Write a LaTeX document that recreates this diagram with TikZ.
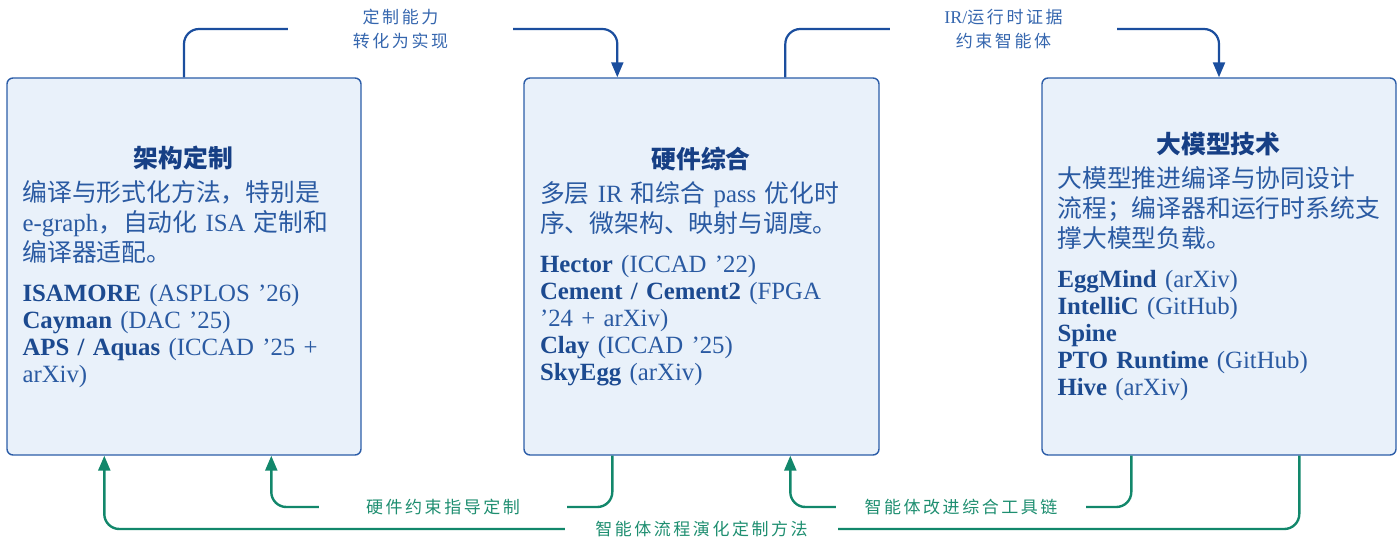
\documentclass[tikz,border=0pt]{standalone}
\usepackage{fontspec}
\setmainfont{Liberation Serif}
\newfontfamily\cjk{Noto Sans CJK SC}
\newfontfamily\cjklab{Noto Sans CJK SC}[LetterSpace=15]
\usetikzlibrary{arrows.meta,calc}
\definecolor{boxfill}{HTML}{E9F1FA}
\definecolor{boxdraw}{HTML}{2C5DA8}
\definecolor{bluecol}{HTML}{1B4E9E}
\definecolor{bodycol}{HTML}{2A5AA2}
\definecolor{namecol}{HTML}{1C4A90}
\definecolor{titlecol}{HTML}{163F85}
\definecolor{toplabcol}{HTML}{3566AE}
\definecolor{greencol}{HTML}{12876B}
\definecolor{botlabcol}{HTML}{1E8E70}
\newcommand\nm[1]{\textbf{\color{namecol}#1}}
\newcommand\ttl[1]{\makebox[\hsize][c]{\color{titlecol}\cjk\bfseries #1}}
\begin{document}
\begin{tikzpicture}[x=1pt,y=-1pt,
 boxst/.style={draw=boxdraw, fill=boxfill, line width=1.4pt, rounded corners=6pt, minimum height=377pt, inner sep=0pt},
 content/.style={anchor=west, text width=322pt, align=left, inner sep=0pt, text=bodycol, font=\fontsize{24.8}{27}\selectfont},
 toplab/.style={inner sep=0pt, align=center, text=toplabcol, font=\cjklab\fontsize{17}{24}\selectfont},
 botlab/.style={inner sep=0pt, align=center, text=botlabcol, font=\cjklab\fontsize{17}{20}\selectfont},
 bline/.style={draw=bluecol, line width=2.2pt, rounded corners=15pt},
 barrow/.style={bline, -{Triangle[length=15pt,width=12pt]}},
 gline/.style={draw=greencol, line width=2.4pt, rounded corners=15pt},
 garrow/.style={gline, -{Triangle[length=15pt,width=12pt]}}]
\useasboundingbox (0,0) rectangle (1398,537);

% boxes
\node[boxst, minimum width=354pt] (b1) at (184,266.5) {};
\node[boxst, minimum width=355pt] (b2) at (701.5,266.5) {};
\node[boxst, minimum width=354pt] (b3) at (1219,266.5) {};

\node[content] (c1) at ($(b1.west)+(16,0)$) {%
\ttl{架构定制}\\[7pt]
{\cjk 编译与形式化方法，特别是}\\[3pt]
e-graph{\cjk ，自动化} ISA {\cjk 定制和}\\[3pt]
{\cjk 编译器适配。}\\[13pt]
\nm{ISAMORE} (ASPLOS ’26)\\
\nm{Cayman} (DAC ’25)\\
\nm{APS / Aquas} (ICCAD ’25 +\\
arXiv)};

\node[content] (c2) at ($(b2.west)+(16.5,0)$) {%
\ttl{硬件综合}\\[7pt]
{\cjk 多层} IR {\cjk 和综合} pass {\cjk 优化时}\\[3pt]
{\cjk 序、微架构、映射与调度。}\\[13pt]
\nm{Hector} (ICCAD ’22)\\
\nm{Cement / Cement2} (FPGA\\
’24 + arXiv)\\
\nm{Clay} (ICCAD ’25)\\
\nm{SkyEgg} (arXiv)};

\node[content] (c3) at ($(b3.west)+(16,0)$) {%
\ttl{大模型技术}\\[7pt]
{\cjk 大模型推进编译与协同设计}\\[3pt]
{\cjk 流程；编译器和运行时系统支}\\[3pt]
{\cjk 撑大模型负载。}\\[13pt]
\nm{EggMind} (arXiv)\\
\nm{IntelliC} (GitHub)\\
\nm{Spine}\\
\nm{PTO Runtime} (GitHub)\\
\nm{Hive} (arXiv)};

% labels
\node[toplab, minimum width=225pt] (l1) at (400.5,29) {定制能力\\转化为实现};
\node[toplab, minimum width=227pt] (l2) at (1003.5,29) {{\rmfamily\fontsize{18}{24}\selectfont IR/}运行时证据\\约束智能体};
\node[botlab, minimum width=248pt] (l3) at (443,507) {硬件约束指导定制};
\node[botlab, minimum width=250pt] (l4) at (961,507) {智能体改进综合工具链};
\node[botlab, minimum width=273pt] (l5) at (701.5,529) {智能体流程演化定制方法};

% anchor coordinates on boxes
\coordinate (t1) at ($(b2.north west)+(94,0)$);
\coordinate (s2) at ($(b2.north west)+(262,0)$);
\coordinate (s3) at ($(b2.south west)+(89,0)$);
\coordinate (e3) at ($(b1.south west)+(265,0)$);
\coordinate (s4) at ($(b3.south west)+(90,0)$);
\coordinate (e4) at ($(b2.south west)+(267,0)$);
\coordinate (s5) at ($(b3.south west)+(258,0)$);
\coordinate (e5) at ($(b1.south west)+(98,0)$);

% top connectors
\draw[bline] (b1.north) |- (l1.west);
\draw[barrow] (l1.east) -| (t1);
\draw[bline] (s2) |- (l2.west);
\draw[barrow] (l2.east) -| (b3.north);

% bottom connectors
\draw[gline] (s3) |- (l3.east);
\draw[garrow] (l3.west) -| (e3);
\draw[gline] (s4) |- (l4.east);
\draw[garrow] (l4.west) -| (e4);
\draw[gline] (s5) |- (l5.east);
\draw[garrow] (l5.west) -| (e5);
\end{tikzpicture}
\end{document}
